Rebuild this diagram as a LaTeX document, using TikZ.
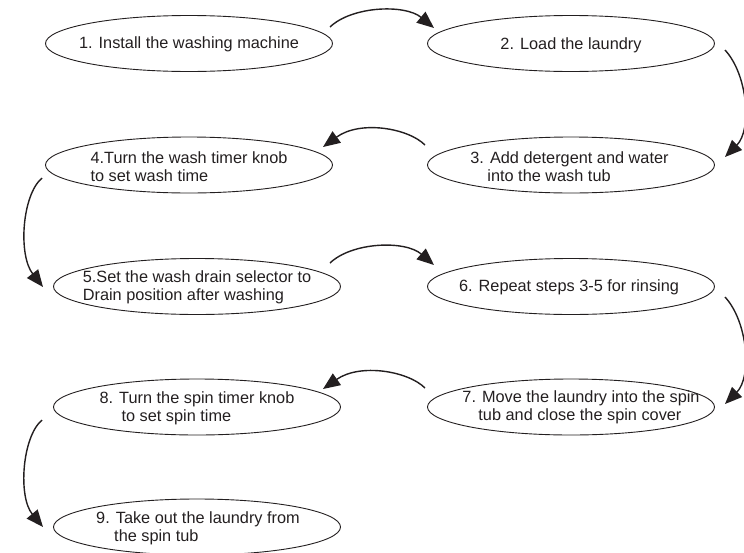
\documentclass[tikz,border=0pt]{standalone}
\usepackage{fontspec}
\setmainfont{Liberation Sans}
\usetikzlibrary{arrows.meta,shapes.geometric}
\definecolor{ink}{HTML}{231F20}
\begin{document}
\begin{tikzpicture}[x=1pt,y=-1pt,
  stepell/.style={draw=ink,line width=0.9pt,ellipse,minimum width=287pt,minimum height=56pt,inner sep=0pt},
  steptext/.style={inner sep=0pt,align=left,text=ink,font=\fontsize{16.3}{18}\selectfont},
  flow/.style={draw=ink,line width=1.4pt,-{Triangle[length=17pt,width=14pt]}}]
\useasboundingbox (0,0) rectangle (744,552);
% ellipses
\node[stepell] (e1) at (189,43.5) {};
\node[stepell] (e2) at (571,43.5) {};
\node[stepell] (e3) at (571,165) {};
\node[stepell] (e4) at (189,165) {};
\node[stepell] (e5) at (197,286.5) {};
\node[stepell] (e6) at (571,286.5) {};
\node[stepell] (e7) at (571,407) {};
\node[stepell] (e8) at (197,407) {};
\node[stepell] (e9) at (197,527) {};
% texts
\node[steptext] (t1) at ([shift={(0,1.6)}]e1.center) {\strut 1. Install the washing machine};
\node[steptext] (t2) at ([shift={(0,2.2)}]e2.center) {\strut 2. Load the laundry};
\node[steptext] (t3) at ([shift={(-1.5,3.4)}]e3.center) {\strut 3. Add detergent and water\\\hspace*{17pt}into the wash tub\strut};
\node[steptext] (t4) at ([shift={(0,3.9)}]e4.center) {\strut 4.Turn the wash timer knob\\to set wash time\strut};
\node[steptext] (t5) at ([shift={(0,0.9)}]e5.center) {\strut 5.Set the wash drain selector to\\Drain position after washing\strut};
\node[steptext] (t6) at ([shift={(-2,0.9)}]e6.center) {\strut 6. Repeat steps 3-5 for rinsing};
\node[steptext] (t7) at ([shift={(10,0.7)}]e7.center) {\strut 7. Move the laundry into the spin\\\hspace*{16pt}tub and close the spin cover\strut};
\node[steptext] (t8) at ([shift={(0,1.6)}]e8.center) {\strut 8. Turn the spin timer knob\\\hspace*{22pt}to set spin time\strut};
\node[steptext] (t9) at ([shift={(1,1.9)}]e9.center) {\strut 9. Take out the laundry from\\\hspace*{18pt}the spin tub\strut};
% connectors
\draw[flow] ([shift={(141,-16.5)}]e1.center) .. controls ([shift={(163,-37.5)}]e1.center) and ([shift={(216,-39.5)}]e1.center) .. ([shift={(-137,-15.5)}]e2.center);
\draw[flow] ([shift={(154,6.5)}]e2.center) .. controls ([shift={(177,31.5)}]e2.center) and ([shift={(181,86.5)}]e2.center) .. ([shift={(154,-8)}]e3.center);
\draw[flow] ([shift={(-146,-20)}]e3.center) .. controls ([shift={(-163,-37)}]e3.center) and ([shift={(-211,-45)}]e3.center) .. ([shift={(134,-18)}]e4.center);
\draw[flow] ([shift={(-147,13)}]e4.center) .. controls ([shift={(-167,30)}]e4.center) and ([shift={(-171,90)}]e4.center) .. ([shift={(-154,0.5)}]e5.center);
\draw[flow] ([shift={(133,-23.5)}]e5.center) .. controls ([shift={(155,-44.5)}]e5.center) and ([shift={(208,-46.5)}]e5.center) .. ([shift={(-137,-21.5)}]e6.center);
\draw[flow] ([shift={(154,10.5)}]e6.center) .. controls ([shift={(177,35.5)}]e6.center) and ([shift={(181,90.5)}]e6.center) .. ([shift={(154,-3)}]e7.center);
\draw[flow] ([shift={(-146,-19)}]e7.center) .. controls ([shift={(-163,-36)}]e7.center) and ([shift={(-211,-44)}]e7.center) .. ([shift={(126,-18)}]e8.center);
\draw[flow] ([shift={(-155,13)}]e8.center) .. controls ([shift={(-175,30)}]e8.center) and ([shift={(-179,90)}]e8.center) .. ([shift={(-154,0)}]e9.center);
\end{tikzpicture}
\end{document}
